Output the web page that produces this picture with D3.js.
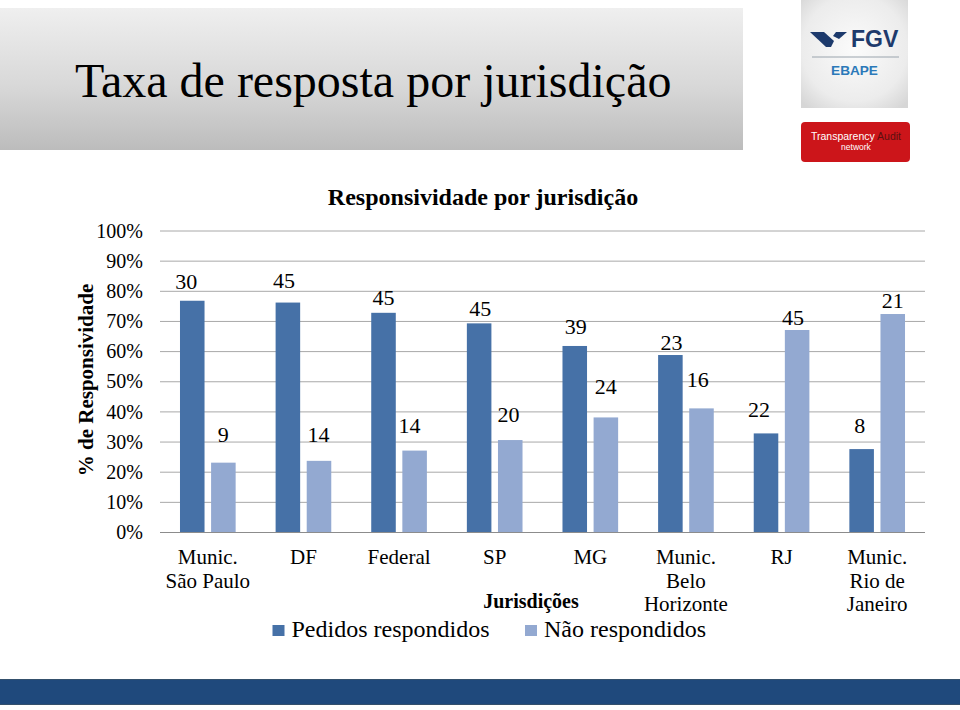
<!DOCTYPE html>
<html>
<head>
<meta charset="utf-8">
<script src="https://cdn.jsdelivr.net/npm/d3@7"></script>
<style>
  html, body { margin: 0; padding: 0; background: #ffffff; }
  svg { display: block; }
</style>
</head>
<body>
<svg id="chart" width="960" height="710"></svg>
<script>
// ---------- data ----------
const categories = ["Munic.\nSão Paulo", "DF", "Federal", "SP", "MG", "Munic.\nBelo\nHorizonte", "RJ", "Munic.\nRio de\nJaneiro"];
const seriesNames = ["Pedidos respondidos", "Não respondidos"];
const respondidosPct = [76.7, 76.1, 72.7, 69.2, 61.7, 58.7, 32.7, 27.5];
const naoRespondidosPct = [23.0, 23.6, 27.0, 30.5, 38.0, 41.0, 67.0, 72.3];
const respondidosCount = [30, 45, 45, 45, 39, 23, 22, 8];
const naoRespondidosCount = [9, 14, 14, 20, 24, 16, 45, 21];
const yTicks = [0, 10, 20, 30, 40, 50, 60, 70, 80, 90, 100];

const pageTitle = "Taxa de resposta por jurisdição";
const chartTitle = "Responsividade por jurisdição";
const yTitle = "% de Responsividade";
const xTitle = "Jurisdições";

// ---------- layout (label nudges as placed in the original) ----------
const labelDx = [[-6, -4, 0, 1, 1, 1, -7, -2], [0, -0.6, -5, -1.7, 0, -3.7, -4, 0]];
const labelGap = [[11.4, 14.4, 7.7, 7.3, 12, 5, 16.6, 15.7], [21, 19, 18, 18.3, 23.3, 21.6, 5, 5.7]];
const colors = ["#4671a7", "#93a9d1"];
const SERIF = "'Liberation Serif', 'Times New Roman', Times, 'DejaVu Serif', serif";
const SANS = "'Liberation Sans', Arial, 'DejaVu Sans', sans-serif";

const svg = d3.select("#chart");
const defs = svg.append("defs");
function txt(parent, family) {
  return parent.append("text").style("font-family", family || SERIF).style("fill", "#000");
}

// ---------- header ----------
const hg = defs.append("linearGradient").attr("id", "hdr").attr("x1", 0).attr("y1", 0).attr("x2", 0).attr("y2", 1);
hg.append("stop").attr("offset", "0%").attr("stop-color", "#efefef");
hg.append("stop").attr("offset", "55%").attr("stop-color", "#d8d8d8");
hg.append("stop").attr("offset", "100%").attr("stop-color", "#bcbcbc");
svg.append("rect").attr("x", 0).attr("y", 8).attr("width", 743).attr("height", 142).attr("fill", "url(#hdr)");
txt(svg).attr("x", 75).attr("y", 97).style("font-size", "48px").text(pageTitle);

// FGV logo
const lg = defs.append("radialGradient").attr("id", "fgvbg").attr("cx", "50%").attr("cy", "45%").attr("r", "70%");
lg.append("stop").attr("offset", "0%").attr("stop-color", "#fbfbfb");
lg.append("stop").attr("offset", "70%").attr("stop-color", "#ececec");
lg.append("stop").attr("offset", "100%").attr("stop-color", "#d6d6d6");
svg.append("rect").attr("x", 801).attr("y", 0).attr("width", 107).attr("height", 108).attr("fill", "url(#fgvbg)");
svg.append("path").attr("d", "M810,32 L824,32 L834,41 L831,47 L826,47 Z").attr("fill", "#1d3a6c");
svg.append("path").attr("d", "M836,32 L847,32 L839,39 L833,36 Z").attr("fill", "#1d3a6c");
txt(svg, SANS).attr("x", 851).attr("y", 47).style("font-size", "23px").style("font-weight", "bold")
  .style("fill", "#1d3a6c").text("FGV");
svg.append("line").attr("x1", 812).attr("x2", 899).attr("y1", 57).attr("y2", 57).attr("stroke", "#9aa4ad").attr("stroke-width", 1);
txt(svg, SANS).attr("x", 854.5).attr("y", 75).attr("text-anchor", "middle").style("font-size", "13.6px").style("font-weight", "bold")
  .style("fill", "#2b79b9").text("EBAPE");

// Transparency Audit badge
svg.append("rect").attr("x", 801).attr("y", 122).attr("width", 109).attr("height", 40).attr("rx", 4).attr("fill", "#cc151a");
const ta = txt(svg, SANS).attr("x", 856).attr("y", 140).attr("text-anchor", "middle").style("font-size", "10.5px");
ta.append("tspan").style("fill", "#ffffff").text("Transparency ");
ta.append("tspan").style("fill", "#5a1010").text("Audit");
txt(svg, SANS).attr("x", 856).attr("y", 150).attr("text-anchor", "middle").style("font-size", "8.5px")
  .style("fill", "#ffffff").text("network");

// bottom band
svg.append("rect").attr("x", 0).attr("y", 679).attr("width", 960).attr("height", 26).attr("fill", "#1f497c");
svg.append("line").attr("x1", 0).attr("x2", 960).attr("y1", 679.5).attr("y2", 679.5).attr("stroke", "#34506c").attr("stroke-width", 1);
svg.append("line").attr("x1", 0).attr("x2", 960).attr("y1", 704.5).attr("y2", 704.5).attr("stroke", "#34506c").attr("stroke-width", 1);

// ---------- chart ----------
const plot = { left: 160, right: 925, top: 230.5, bottom: 532 };
const y = d3.scaleLinear().domain([0, 100]).range([plot.bottom, plot.top]);
const x0 = d3.scaleBand().domain(d3.range(categories.length)).range([plot.left, plot.right]).paddingInner(0.418).paddingOuter(0.209);
const x1 = d3.scaleBand().domain([0, 1]).range([0, x0.bandwidth()]).paddingInner(0.211).paddingOuter(0);

txt(svg).attr("x", 483).attr("y", 205).attr("text-anchor", "middle").style("font-size", "24px").style("font-weight", "bold").text(chartTitle);

// gridlines + tick labels
const yAxis = d3.axisLeft(y).tickValues(yTicks).tickSize(-(plot.right - plot.left)).tickFormat(d => d + "%");
const gy = svg.append("g").attr("transform", `translate(${plot.left},0)`).call(yAxis);
gy.attr("font-family", null).attr("font-size", null);
gy.select(".domain").remove();
gy.selectAll(".tick line").attr("stroke", d => d === 0 ? "#8c8c8c" : "#a8a8a8").attr("stroke-width", 1);
gy.selectAll(".tick text").attr("x", -17).attr("dy", "0.33em")
  .style("font-size", "20px").style("font-family", SERIF).style("fill", "#000");

txt(svg).attr("transform", "translate(93,380) rotate(-90)").attr("text-anchor", "middle")
  .style("font-size", "21px").style("font-weight", "bold").text(yTitle);

// bars
const series = [respondidosPct, naoRespondidosPct];
const counts = [respondidosCount, naoRespondidosCount];
series.forEach((vals, s) => {
  const g = svg.append("g");
  g.selectAll("rect").data(vals).join("rect")
    .attr("x", (d, i) => x0(i) + x1(s))
    .attr("width", x1.bandwidth())
    .attr("y", d => y(d))
    .attr("height", d => y(0) - y(d))
    .attr("fill", colors[s]);
  g.selectAll("text").data(vals).join("text")
    .attr("x", (d, i) => x0(i) + x1(s) + x1.bandwidth() / 2 + labelDx[s][i])
    .attr("y", (d, i) => y(d) - labelGap[s][i])
    .attr("text-anchor", "middle")
    .style("font-size", "22px").style("font-family", SERIF).style("fill", "#000")
    .text((d, i) => counts[s][i]);
});

// category labels
const gx = svg.append("g");
categories.forEach((c, i) => {
  const cx = x0(i) + x0.bandwidth() / 2;
  const t = txt(gx).attr("x", cx).attr("y", 564).attr("text-anchor", "middle").style("font-size", "21px");
  c.split("\n").forEach((line, k) => {
    t.append("tspan").attr("x", cx).attr("dy", k === 0 ? 0 : 23.7).text(line);
  });
});
txt(svg).attr("x", 531).attr("y", 608).attr("text-anchor", "middle").style("font-size", "20px").style("font-weight", "bold").text(xTitle);

// legend
const legendX = [272.5, 525];
seriesNames.forEach((n, s) => {
  svg.append("rect").attr("x", legendX[s]).attr("y", 625).attr("width", 12).attr("height", 11).attr("fill", colors[s]);
  txt(svg).attr("x", legendX[s] + 19).attr("y", 636.5).style("font-size", "24px").text(n);
});
</script>
</body>
</html>
